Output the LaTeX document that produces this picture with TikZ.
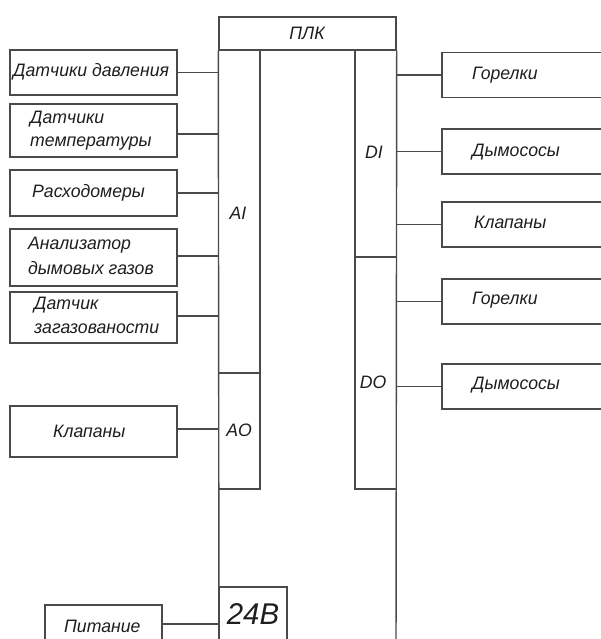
\documentclass[tikz,border=0pt]{standalone}
\usepackage{fontspec}
\setmainfont{Liberation Sans}[FakeStretch=0.98]
\definecolor{linec}{HTML}{4A4A4A}
\definecolor{txtc}{HTML}{1E1E1E}
\begin{document}
\begin{tikzpicture}[x=1pt,y=-1pt]
\tikzset{
  ln/.style={draw=linec,line width=1.4pt},
  box/.style={ln,rectangle,inner sep=0pt},
  lbox/.style={box,minimum width=167pt},
  rbox/.style={box,minimum width=178pt,minimum height=45pt},
  lbl/.style={font=\fontsize{18}{22}\selectfont\itshape,text=txtc,inner sep=0pt,anchor=west},
  clbl/.style={font=\fontsize{18}{22}\selectfont\itshape,text=txtc,inner sep=0pt}
}
\useasboundingbox (0,0) rectangle (600,639);
% PLC
\node[box,minimum width=177pt,minimum height=33pt] (plc) at (307.5,33.5) {};
\node[clbl] (plct) at (307,33.5) {ПЛК};
\coordinate (plcL) at (219,660);
\coordinate (plcR) at (396,660);
\draw[ln] (plc.south west) -- (plcL);
\draw[ln] (plc.south east) -- (plcR);
% inner columns
\coordinate (aiTop) at (260,50);
\coordinate (aiBot) at (260,489);
\coordinate (aiDiv) at (219,373);
\coordinate (aiBotL) at (219,489);
\draw[ln] (aiTop) -- (aiBot) -- (aiBotL);
\draw[ln] (aiDiv) -- (aiDiv -| aiTop);
\coordinate (diTop) at (355,50);
\coordinate (diBot) at (355,489);
\coordinate (diDiv) at (396,257);
\coordinate (diBotR) at (396,489);
\draw[ln] (diTop) -- (diBot) -- (diBotR);
\draw[ln] (diDiv) -- (diDiv -| diTop);
\node[clbl] (ai) at (238,213) {AI};
\node[clbl] (ao) at (239,430) {AO};
\node[clbl] (di) at (374,152) {DI};
\node[clbl] (do) at (373,382) {DO};
% 24V
\node[box,minimum width=68pt,minimum height=73pt] (v24) at (253,623.5) {};
\node[font=\fontsize{30}{32}\selectfont\itshape,text=txtc,inner sep=0pt] (v24t) at (253,614) {24В};
% left boxes
\node[lbox,minimum height=45pt] (l1) at (93.5,72.5) {};
\node[lbox,minimum height=53pt] (l2) at (93.5,130.5) {};
\node[lbox,minimum height=46pt] (l3) at (93.5,193) {};
\node[lbox,minimum height=57pt] (l4) at (93.5,257.5) {};
\node[lbox,minimum height=51pt] (l5) at (93.5,317.5) {};
\node[lbox,minimum height=51pt] (l6) at (93.5,431.5) {};
\node[box,minimum width=117pt,minimum height=45pt] (pit) at (103.5,627.5) {};
\node[lbl] (t1) at (13,72) {Датчики давления};
\node[lbl] (t2a) at (30,119) {Датчики};
\node[lbl] (t2b) at (30,144) {температуры};
\node[lbl] (t3) at (32,193) {Расходомеры};
\node[lbl] (t4a) at (28,245) {Анализатор};
\node[lbl] (t4b) at (28,268) {дымовых газов};
\node[lbl] (t5a) at (34,305) {Датчик};
\node[lbl] (t5b) at (34,329) {загазованости};
\node[lbl] (t6) at (53,431) {Клапаны};
\node[lbl] (tp) at (64,626) {Питание};
\draw[ln] (l1.east) -- (l1.east -| plcL);
\draw[ln] ([yshift=-3.5pt]l2.east) -- ([yshift=-3.5pt]l2.east -| plcL);
\draw[ln] (l3.east) -- (l3.east -| plcL);
\draw[ln] ([yshift=1.5pt]l4.east) -- ([yshift=1.5pt]l4.east -| plcL);
\draw[ln] ([yshift=1.5pt]l5.east) -- ([yshift=1.5pt]l5.east -| plcL);
\draw[ln] ([yshift=2.5pt]l6.east) -- ([yshift=2.5pt]l6.east -| plcL);
\draw[ln] ([yshift=3.5pt]pit.east) -- ([yshift=3.5pt]pit.east -| plcL);
% right boxes
\node[rbox] (r1) at (531,75) {};
\node[rbox] (r2) at (531,151.5) {};
\node[rbox] (r3) at (531,224.5) {};
\node[rbox] (r4) at (531,301.5) {};
\node[rbox] (r5) at (531,386.5) {};
\node[lbl] (u1) at (472,75) {Горелки};
\node[lbl] (u2) at (472,152) {Дымососы};
\node[lbl] (u3) at (474,222) {Клапаны};
\node[lbl] (u4) at (472,300) {Горелки};
\node[lbl] (u5) at (472,385) {Дымососы};
\foreach \r in {r1,r2,r3,r4,r5}{
  \draw[ln] (\r.west) -- (\r.west -| plcR);
}
\end{tikzpicture}
\end{document}
